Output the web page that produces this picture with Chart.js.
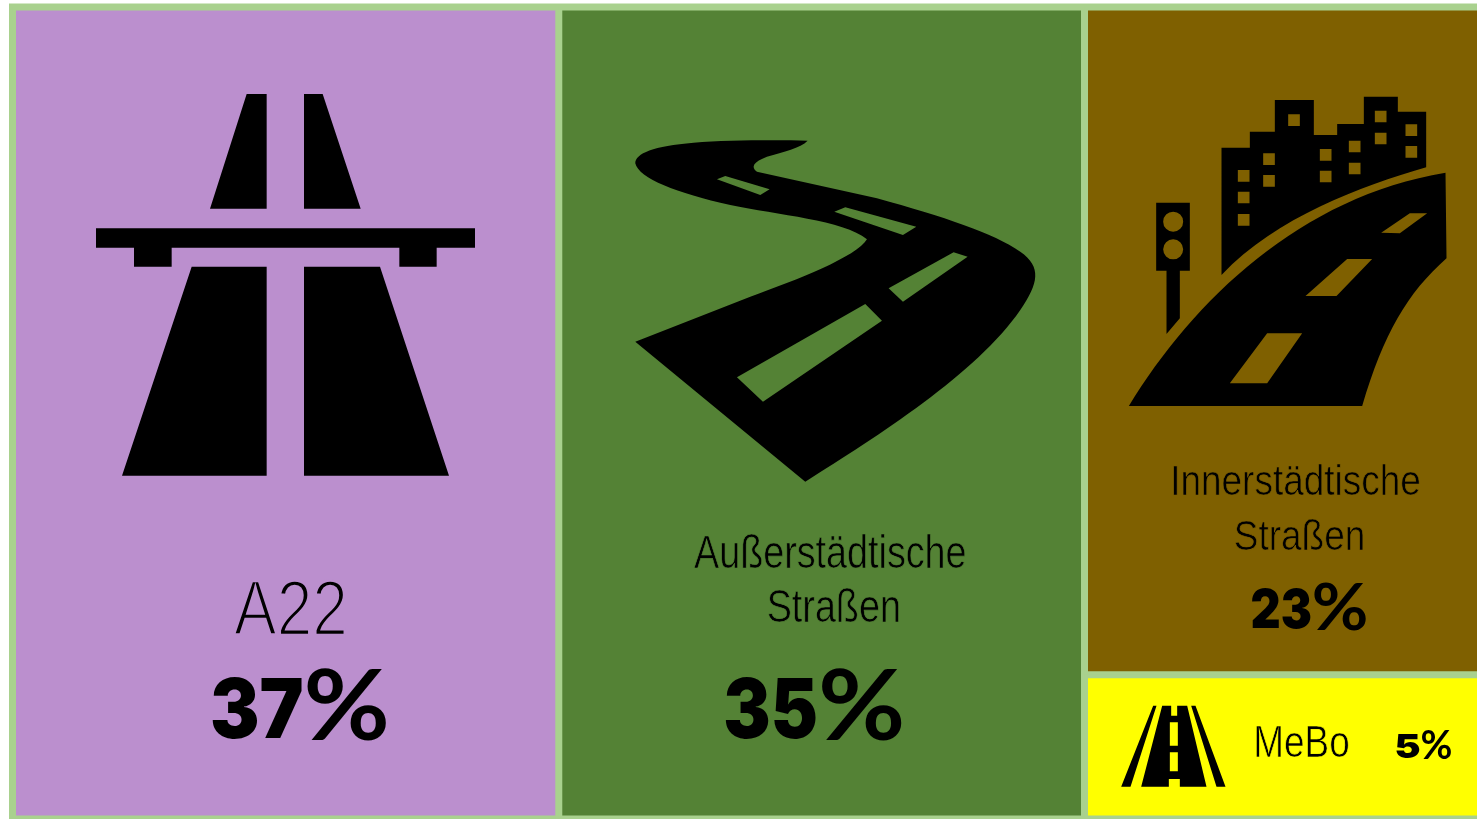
<!DOCTYPE html>
<html>
<head>
<meta charset="utf-8">
<title>Treemap Straßen</title>
<script src="https://cdn.jsdelivr.net/npm/chart.js@4"></script>
<style>
  html, body { margin: 0; background: #fff; overflow: hidden; height: 100%; }
  #box { position: absolute; left: 0; top: 0; width: 1481px; height: 819px; filter: blur(0.6px); }
</style>
</head>
<body>
<div id="box"><canvas id="tree"></canvas></div>
<script>
// Values
const categories = ['A22', 'Außerstädtische\nStraßen', 'Innerstädtische\nStraßen', 'MeBo'];
const shareLabels = ['37%', '35%', '23%', '5%'];
const tileSizes = [37.2, 35.8, 22.2, 4.8]; // tile areas, estimated from the tile widths/heights
const tileColors = ['#bb8fce', '#548235', '#7f6000', '#ffff00'];
const frameColor = '#a9d18e';

// Icons are traced at 3x, origin relative to the top-left corner of their tile
const iconPaths = [
  'M560 72H620V416H450Z M732 72H788L902 416H732Z ' +
  'M108 475H1245V533H1130V590H1018V533H335V590H222V533H108Z ' +
  'M395 590H620V1217H186Z M732 590H960L1167 1217H732Z',

  'M592 62C500 60 350 60 250 68C130 78 75 100 75 130C85 175 200 220 360 255C500 285 700 300 770 358' +
  'C740 410 560 480 420 530L75 665L585 1085C800 950 1100 760 1230 570C1285 490 1295 440 1230 395' +
  'C1150 340 1000 290 800 235L440 155C420 140 430 125 470 110C520 95 570 85 592 62Z ' +
  'M320 178L345 168L478 208L450 225Z M672 275L705 262L918 320L878 345Z ' +
  'M835 505L1030 397L1072 410L878 545Z M380 772L765 552L815 602L458 845Z',

  'M303 203H388V155H463V60H580V165H650V132H730V50H832V95H917V262C720 320 470 410 303 585Z ' +
  'M503 103h35v35h-35z M763 92h35v35h-35z M855 133h35v35h-35z M763 158h35v35h-35z M855 198h35v35h-35z ' +
  'M685 182h35v35h-35z M598 207h35v35h-35z M428 220h35v35h-35z M352 270h35v35h-35z M428 285h35v35h-35z ' +
  'M598 272h35v35h-35z M685 248h35v35h-35z M352 335h35v35h-35z M352 402h35v35h-35z ' +
  'M25 978C220 660 540 350 975 278L978 535C860 640 790 760 725 978Z ' +
  'M782 458L868 400H920L838 460Z M555 648L680 537H755L648 648Z M328 910L440 760H545L440 910Z ' +
  'M107 368H208V572H178V715L138 762V572H107Z ' +
  'M128 425a30 30 0 1 0 60 0a30 30 0 1 0 -60 0Z M128 508a30 30 0 1 0 60 0a30 30 0 1 0 -60 0Z',

  'M218 165H228L150 408H122Z M332 165H345L435 408H408Z ' +
  'M245 165H272V195H290V165H320L378 408H298V385H265V408H182Z ' +
  'M268 215H292V285H268Z M268 305H292V362H268Z'
];

// Placement of icon and text inside each tile, in pixels from the tile's top-left corner
const tileDecor = [
  { icon: [47.5, 63], labelX: [278.5], labelY: [628], labelFont: 78, squash: 0.82, thin: 2.6, pctX: 197.5, pctY: 731, pctFont: 82, pctW: 180 },
  { icon: [51.5, 113], labelX: [271.5, 275], labelY: [561, 615], labelFont: 46, squash: 0.82, thin: 0.7, pctX: 164.5, pctY: 731, pctFont: 82, pctW: 182 },
  { icon: [36, 73], labelX: [211, 215], labelY: [488, 543], labelFont: 42, squash: 0.88, thin: 0.7, pctX: 166, pctY: 621, pctFont: 54, pctW: 118 },
  { icon: [-4, -24], labelX: [217], labelY: [82], labelFont: 45, squash: 0.82, thin: 0.7, pctX: 310, pctY: 83, pctFont: 33, pctW: 58 }
];

// Slice the sizes into columns: first two take the full height, last two share a column
function buildTiles() {
  const lastCol = tileSizes[2] + tileSizes[3];
  const x1 = tileSizes[0];
  const x2 = x1 + tileSizes[1];
  const splitY = 100 * tileSizes[2] / lastCol;
  return [
    { x0: 0, x1: x1, y0: 0, y1: 100 },
    { x0: x1, x1: x2, y0: 0, y1: 100 },
    { x0: x2, x1: x2 + lastCol, y0: 0, y1: splitY },
    { x0: x2, x1: x2 + lastCol, y0: splitY, y1: 100 }
  ];
}

// Small treemap controller: rectangles placed by the linear x/y scales
class TileController extends Chart.DatasetController {
  update(mode) {
    const meta = this._cachedMeta;
    this.updateElements(meta.data, 0, meta.data.length, mode);
  }
  updateElements(rects, start, count, mode) {
    const { xScale, yScale } = this._cachedMeta;
    for (let i = start; i < start + count; i++) {
      const t = this.getParsed(i);
      const left = xScale.getPixelForValue(t.x0);
      const right = xScale.getPixelForValue(t.x1);
      const top = yScale.getPixelForValue(t.y0);
      const bottom = yScale.getPixelForValue(t.y1);
      this.updateElement(rects[i], i, {
        x: (left + right) / 2,
        y: top,
        base: bottom,
        width: right - left,
        height: bottom - top,
        horizontal: false,
        inflateAmount: 0,
        borderSkipped: {},
        options: this.resolveDataElementOptions(i, mode)
      }, mode);
    }
  }
}
TileController.id = 'tile';
TileController.defaults = { datasetElementType: false, dataElementType: 'bar' };
Chart.register(TileController);

// Narrow or widen a text around its anchor
function drawSquashed(ctx, text, x, y, squash, thin, thinColor) {
  ctx.save();
  ctx.translate(x, y);
  ctx.scale(squash, 1);
  ctx.fillText(text, 0, 0);
  if (thin) {
    // the reference has a light weight, so eat into the glyphs a little
    ctx.lineWidth = thin;
    ctx.strokeStyle = thinColor;
    ctx.strokeText(text, 0, 0);
  }
  ctx.restore();
}

// Digits are very heavy and the percent sign is lighter, so they use two fonts
function drawShare(ctx, label, x, y, size, width) {
  const digits = label.slice(0, -1);
  const digitShare = digits.length === 1 ? 0.45 : 0.52;
  ctx.textAlign = 'left';
  ctx.font = '900 ' + size + 'px Inter';
  drawSquashed(ctx, digits, x, y, width * digitShare / ctx.measureText(digits).width);
  ctx.font = '700 ' + size * 1.2 + 'px Lato';
  const pctFit = width * (1 - digitShare) / ctx.measureText('%').width;
  drawSquashed(ctx, '%', x + width * digitShare, y + size * 0.03, pctFit);
}

const decorPlugin = {
  id: 'decor',
  beforeDatasetsDraw(chart) {
    // outer frame around the map
    const a = chart.chartArea;
    chart.ctx.fillStyle = frameColor;
    chart.ctx.fillRect(a.left - 3.5, a.top - 3.5, a.right - a.left + 3.5, a.bottom - a.top + 3.5);
  },
  afterDatasetsDraw(chart) {
    const ctx = chart.ctx;
    chart.getDatasetMeta(0).data.forEach((el, i) => {
      const left = el.x - el.width / 2;
      const top = el.y;
      const d = tileDecor[i];

      ctx.save();
      ctx.translate(left + d.icon[0], top + d.icon[1]);
      ctx.scale(1 / 3, 1 / 3);
      ctx.fillStyle = '#000';
      ctx.fill(new Path2D(iconPaths[i]), 'evenodd');
      ctx.restore();

      ctx.save();
      ctx.fillStyle = '#000';
      ctx.textAlign = 'center';
      ctx.textBaseline = 'alphabetic';
      ctx.font = d.labelFont + 'px "Liberation Sans"';
      categories[i].split('\n').forEach((line, n) => {
        drawSquashed(ctx, line, left + d.labelX[n], top + d.labelY[n], d.squash, d.thin, tileColors[i]);
      });
      drawShare(ctx, shareLabels[i], left + d.pctX, top + d.pctY, d.pctFont, d.pctW);
      ctx.restore();
    });
  }
};

new Chart(document.getElementById('tree'), {
  type: 'tile',
  data: {
    datasets: [{
      data: buildTiles(),
      backgroundColor: tileColors,
      borderColor: frameColor,
      borderWidth: 3.5,
      borderSkipped: false,
      clip: false
    }]
  },
  plugins: [decorPlugin],
  options: {
    responsive: true,
    maintainAspectRatio: false,
    animation: false,
    events: [],
    parsing: false,
    layout: { padding: { left: 12.5, top: 7, right: 0, bottom: 0 } },
    plugins: { legend: { display: false }, tooltip: { enabled: false } },
    scales: {
      x: { type: 'linear', min: 0, max: 100, display: false },
      y: { type: 'linear', min: 0, max: 100, reverse: true, display: false }
    }
  }
});
</script>
</body>
</html>
